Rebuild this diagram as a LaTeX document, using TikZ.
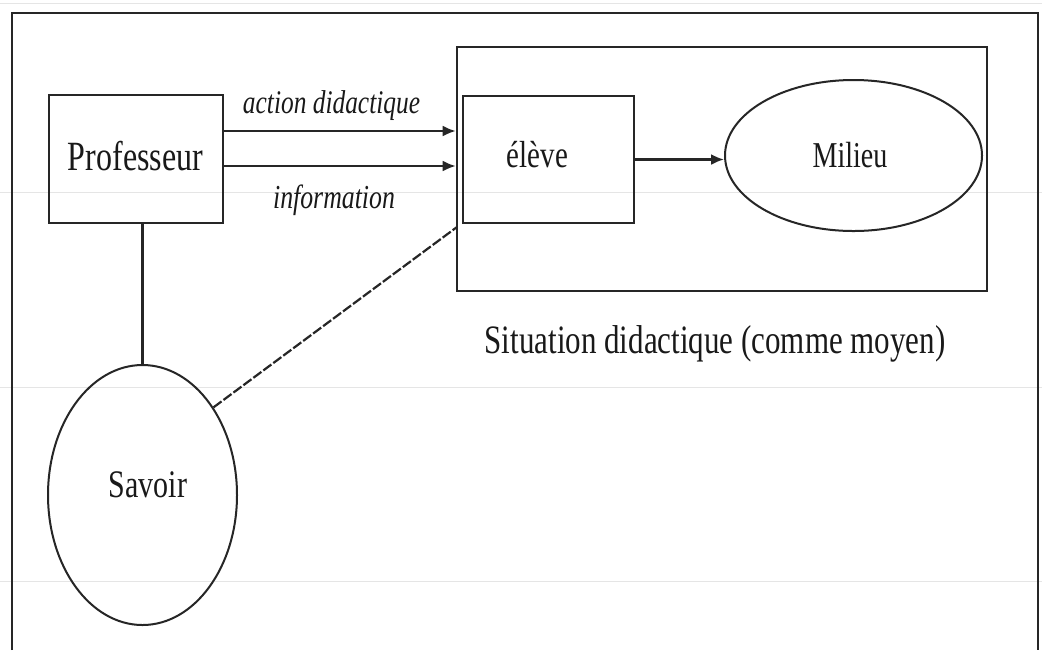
\documentclass[tikz,border=0pt]{standalone}
\usepackage{fontspec}
\usepackage{graphicx}
\setmainfont{Liberation Serif}
\usetikzlibrary{shapes.geometric,arrows.meta}
\newcommand{\tallt}[1]{\scalebox{1}[1.3]{#1}}
\tikzset{
  frame/.style={draw=black!85, line width=1.2pt},
  boxnode/.style={draw=black!85, line width=1.3pt, rectangle, inner sep=0pt},
  ellnode/.style={draw=black!85, line width=1pt, ellipse, inner sep=0pt},
  txt/.style={anchor=base, inner sep=0pt, text=black!90},
  arr/.style={draw=black!85, line width=1.1pt, -{Latex[length=6.5pt,width=5.5pt]}},
  conn/.style={draw=black!85, line width=1.1pt},
  dashconn/.style={draw=black!85, line width=1.1pt, dash pattern=on 5pt off 1.2pt},
  faint/.style={draw=black!10, line width=0.5pt}
}
\begin{document}
\begin{tikzpicture}[x=0.5pt,y=-0.5pt]
\useasboundingbox[fill=white] (0,0) rectangle (1042,650);
% faint scan lines
\draw[faint] (0,3) -- (1042,3);
\draw[faint] (0,192) -- (1042,192);
\draw[faint] (0,387) -- (1042,387);
\draw[faint] (0,581) -- (1042,581);
% outer frame (open at the bottom)
\draw[frame] (12,650) -- (12,13) -- (1038,13) -- (1038,650);
% nodes
\node[boxnode, minimum width=87pt, minimum height=64pt] (prof) at (136,159) {};
\node[boxnode, minimum width=265pt, minimum height=122pt] (sit) at (722,169) {};
\node[boxnode, minimum width=85.5pt, minimum height=63.5pt] (eleve) at (548.5,159.5) {};
\node[ellnode, minimum width=128.5pt, minimum height=75.5pt] (milieu) at (853.5,155.5) {};
\node[ellnode, minimum width=94.5pt, minimum height=130pt] (savoir) at (142.5,495) {};
% texts
\node[txt, font=\fontsize{16}{18}\selectfont] (tprof) at (135.5,170) {\tallt{Professeur}};
\node[txt, font=\fontsize{14.5}{17}\selectfont] (televe) at (537.5,167) {\tallt{élève}};
\node[txt, font=\fontsize{14}{17}\selectfont] (tmilieu) at (850,167) {\tallt{Milieu}};
\node[txt, font=\fontsize{15}{18}\selectfont] (tsavoir) at (148,497) {\tallt{Savoir}};
\node[txt, font=\fontsize{12.7}{15}\selectfont\itshape] (taction) at (331.5,113) {\tallt{action didactique}};
\node[txt, font=\fontsize{12.9}{15}\selectfont\itshape] (tinfo) at (334,208) {\tallt{information}};
\node[txt, font=\fontsize{15.5}{18}\selectfont] (tsit) at (715,353) {\tallt{Situation didactique (comme moyen)}};
% connectors
\draw[arr] ([yshift=14pt]prof.east) -- ([yshift=14pt]prof.east -| sit.west);
\draw[arr] ([yshift=-3.5pt]prof.east) -- ([yshift=-3.5pt]prof.east -| sit.west);
\draw[arr] (eleve.east) -- (eleve.east -| milieu.west);
\draw[conn] (prof.south -| savoir.north) -- (savoir.north);
\coordinate (dashend) at (457,227);
\draw[dashconn] (savoir.51) -- (dashend);
\end{tikzpicture}
\end{document}
